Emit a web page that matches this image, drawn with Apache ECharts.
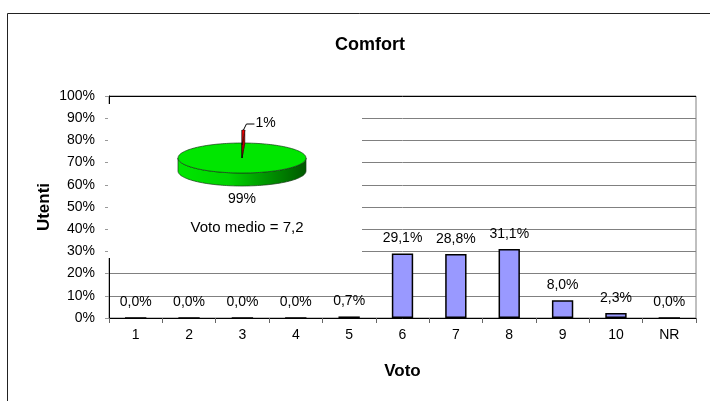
<!DOCTYPE html>
<html>
<head>
<meta charset="utf-8">
<script src="https://cdn.jsdelivr.net/npm/echarts@6/dist/echarts.min.js"></script>
<style>html,body{margin:0;padding:0;background:#fff}#c{width:710px;height:401px}</style>
</head>
<body>
<div id="c"></div>
<script>
const categories = ['1','2','3','4','5','6','7','8','9','10','NR'];
const percentages = [0.0, 0.0, 0.0, 0.0, 0.7, 29.1, 28.8, 31.1, 8.0, 2.3, 0.0];
const yTickValues = [0,10,20,30,40,50,60,70,80,90,100];
const pieNames = ['Sufficiente', 'Insufficiente'];
const pieValues = [99.3, 0.7];
const votoMedio = 7.2;
const titleText = 'Comfort';
const xName = 'Voto';
const yName = 'Utenti';

const FONT = "'Liberation Sans', Arial, sans-serif";
const fmt1 = v => v.toFixed(1).replace('.', ',') + '%';

// 3D pie geometry
const PC = {cx: 242, cy: 158, rx: 64, ry: 15, depth: 13, startDeg: 2.5, explodeY: 13};
const pieTotal = pieValues.reduce((a, b) => a + b, 0);
const pieCum = [];
pieValues.reduce((acc, v, i) => { pieCum[i] = acc; return acc + v; }, 0);
const DEG = Math.PI / 180;
function ep(theta, cx, cy) { return [cx + PC.rx * Math.sin(theta), cy - PC.ry * Math.cos(theta)]; }
function arc(a0, a1, cx, cy) {
  const pts = []; const n = Math.max(2, Math.ceil((a1 - a0) / (2 * DEG)));
  for (let k = 0; k <= n; k++) pts.push(ep(a0 + (a1 - a0) * k / n, cx, cy));
  return pts;
}

function renderPie(params, api) {
  const i = params.dataIndex;
  const v = api.value(0);
  const a0 = PC.startDeg * DEG + pieCum[i] / pieTotal * 2 * Math.PI;
  const a1 = a0 + v / pieTotal * 2 * Math.PI;
  const children = [];
  if (i === 0) {
    const s0 = Math.max(a0, 90 * DEG), s1 = Math.min(a1, 270 * DEG);
    if (s1 > s0) {
      const top = arc(s0, s1, PC.cx, PC.cy);
      const bot = arc(s0, s1, PC.cx, PC.cy + PC.depth).reverse();
      children.push({type: 'polygon', shape: {points: top.concat(bot)},
        style: {fill: {type: 'linear', x: 0, y: 0, x2: 1, y2: 0, colorStops: [
          {offset: 0, color: '#00e600'}, {offset: 0.4, color: '#00d400'}, {offset: 0.6, color: '#00a800'}, {offset: 1, color: '#005800'}]},
          stroke: '#1a3a1a', lineWidth: 0.7}});
    }
    children.push({type: 'polygon', shape: {points: [[PC.cx, PC.cy]].concat(arc(a0, a1, PC.cx, PC.cy))},
      style: {fill: '#00e600', stroke: '#1a3a1a', lineWidth: 0.7}});
    children.push({type: 'text', style: {text: Math.round(v) + '%', x: PC.cx, y: 199,
      font: '14px ' + FONT, fill: '#000', align: 'center', verticalAlign: 'middle'}});
  } else {
    const mid = (a0 + a1) / 2;
    const ox = PC.explodeY * PC.rx / PC.ry * Math.sin(mid) * 0.05;
    const oy = -PC.explodeY * Math.cos(mid);
    const c = [PC.cx + ox, PC.cy + oy];
    const cb = [c[0], c[1] + PC.depth];
    const t0 = ep(a0, c[0], c[1]), t1 = ep(a1, c[0], c[1]);
    const b0 = ep(a0, cb[0], cb[1]), b1 = ep(a1, cb[0], cb[1]);
    children.push({type: 'polygon', shape: {points: [c, t0, b0, cb]}, style: {fill: '#8a0000', stroke: '#000', lineWidth: 0.5}});
    children.push({type: 'polygon', shape: {points: [c, t1, b1, cb]}, style: {fill: '#c00000', stroke: '#000', lineWidth: 0.5}});
    children.push({type: 'polygon', shape: {points: [c].concat(arc(a0, a1, c[0], c[1]))}, style: {fill: '#ff0000', stroke: '#000', lineWidth: 0.5}});
    const tip = ep(mid, c[0], c[1]);
    children.push({type: 'polyline', shape: {points: [[tip[0], tip[1]], [tip[0] + 3, tip[1] - 6], [tip[0] + 11, tip[1] - 6]]},
      style: {stroke: '#000', lineWidth: 1, fill: null}});
    children.push({type: 'text', style: {text: Math.round(v) + '%', x: tip[0] + 12, y: tip[1] - 7,
      font: '14px ' + FONT, fill: '#000', align: 'left', verticalAlign: 'middle'}});
  }
  return {type: 'group', children: children};
}

const splitColors = yTickValues.map(v => v === 100 ? '#000000' : '#808080');

const chart = echarts.init(document.getElementById('c'), null, {renderer: 'canvas'});
chart.setOption({
  animation: false,
  backgroundColor: '#fff',
  title: {text: titleText, left: 365, top: 31, textAlign: 'center',
    textStyle: {fontFamily: FONT, fontSize: 18, fontWeight: 'bold', color: '#000'}},
  grid: {left: 109, right: 14, top: 96, bottom: 83, show: true, borderColor: '#808080', borderWidth: 1, backgroundColor: 'transparent'},
  xAxis: {
    type: 'category', data: categories,
    name: xName, nameLocation: 'middle', nameGap: 45, nameMoveOverlap: false,
    nameTextStyle: {fontFamily: FONT, fontSize: 17, fontWeight: 'bold', color: '#000'},
    axisLine: {lineStyle: {color: '#000', width: 1}},
    axisTick: {show: true, alignWithLabel: false, length: 5, lineStyle: {color: '#666'}},
    axisLabel: {fontFamily: FONT, fontSize: 14, color: '#000', margin: 10},
    splitLine: {show: false}
  },
  yAxis: {
    type: 'value', min: 0, max: 100, interval: 10,
    name: yName, nameLocation: 'middle', nameGap: 56, nameRotate: 90, nameMoveOverlap: false,
    nameTextStyle: {fontFamily: FONT, fontSize: 17, fontWeight: 'bold', color: '#000'},
    axisLine: {show: true, lineStyle: {color: '#000', width: 1}},
    axisTick: {show: true, length: 4, lineStyle: {color: '#999'}},
    axisLabel: {fontFamily: FONT, fontSize: 14, color: '#000', margin: 14, formatter: v => v + '%'},
    splitLine: {show: true, lineStyle: {color: splitColors, width: 1}}
  },
  graphic: [
    {type: 'rect', z: 0, silent: true, shape: {x: 7.5, y: 13.5, width: 720, height: 400},
      style: {fill: null, stroke: '#222', lineWidth: 1}},
    {type: 'rect', z: 1, silent: true, shape: {x: 108, y: 104, width: 254, height: 154},
      style: {fill: '#ffffff', stroke: null}},
    {type: 'text', z: 5, silent: true, style: {text: 'Voto medio = ' + String(votoMedio).replace('.', ','),
      x: 247, y: 228, font: '15px ' + FONT, fill: '#000', align: 'center', verticalAlign: 'middle'}}
  ],
  series: [
    {
      type: 'bar', data: percentages, barWidth: '40%', z: 2,
      itemStyle: {color: '#9999ff', borderColor: '#000', borderWidth: 1.5},
      label: {show: true, position: 'top', distance: 8, formatter: p => fmt1(p.value),
        fontFamily: FONT, fontSize: 14, color: '#000'}
    },
    {
      type: 'custom', coordinateSystem: 'none', z: 4,
      data: pieValues.map((v, i) => ({name: pieNames[i], value: [v]})),
      renderItem: renderPie
    }
  ]
});
</script>
</body>
</html>
